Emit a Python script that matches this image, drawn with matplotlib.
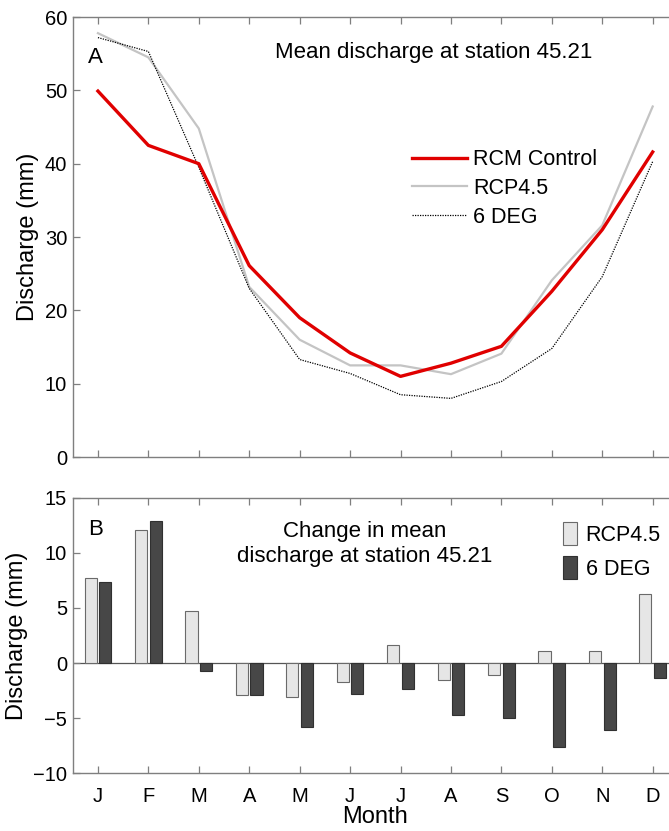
import numpy as np
import matplotlib.pyplot as plt

plt.rcParams['font.family'] = ['Liberation Sans', 'DejaVu Sans']

months = ['J', 'F', 'M', 'A', 'M', 'J', 'J', 'A', 'S', 'O', 'N', 'D']

# mean discharge (mm)
rcm_control = [49.9, 42.5, 40.0, 26.1, 19.0, 14.2, 11.0, 12.8, 15.1, 22.6, 31.0, 41.6]
rcp45 = [57.8, 54.5, 44.8, 23.2, 16.0, 12.5, 12.5, 11.3, 14.1, 24.1, 31.6, 47.8]
deg6 = [57.2, 55.3, 39.5, 23.0, 13.3, 11.4, 8.5, 8.0, 10.3, 14.8, 24.6, 40.3]

# change in mean discharge (mm)
chg_rcp45 = [7.74, 12.03, 4.75, -2.93, -3.05, -1.75, 1.66, -1.51, -1.12, 1.09, 1.09, 6.23]
chg_deg6 = [7.32, 12.88, -0.73, -2.87, -5.77, -2.78, -2.33, -4.75, -4.99, -7.62, -6.11, -1.33]

x = np.arange(1, 13)
spine_col = '#7f7f7f'

fig = plt.figure(figsize=(6.69, 8.31), dpi=100)
ax1 = fig.add_axes([0.1087, 0.450, 0.9046, 0.5295])
ax2 = fig.add_axes([0.1087, 0.0694, 0.9046, 0.3317])

# --- panel A
ax1.plot(x, rcm_control, color='#e00000', lw=2.4, label='RCM Control', zorder=3)
ax1.plot(x, rcp45, color='#c4c4c4', lw=1.6, label='RCP4.5', zorder=2)
ax1.plot(x, deg6, color='black', lw=0.9, ls=(0, (1, 1)), label='6 DEG', zorder=2)
ax1.set_xlim(0.5, 12.5)
ax1.set_ylim(0, 60)
ax1.set_yticks(np.arange(0, 61, 10))
ax1.set_xticks(x)
ax1.set_xticklabels([])
ax1.set_ylabel('Discharge (mm)', fontsize=17, labelpad=4)
ax1.text(0.025, 0.909, 'A', transform=ax1.transAxes, fontsize=16, va='center', ha='left')
ax1.text(0.597, 0.92, 'Mean discharge at station 45.21', transform=ax1.transAxes,
         fontsize=16, ha='center', va='center')
ax1.legend(frameon=False, loc='upper left', bbox_to_anchor=(0.56, 0.70), fontsize=15.5,
           handlelength=2.56, handletextpad=0.3, labelspacing=0.36, borderaxespad=0,
           borderpad=0)

# --- panel B
w = 0.24
ax2.bar(x - 0.145, chg_rcp45, width=w, color='#e6e6e6', edgecolor='#6a6a6a', lw=0.8,
        label='RCP4.5', zorder=2)
ax2.bar(x + 0.145, chg_deg6, width=w, color='#474747', edgecolor='#303030', lw=0.8,
        label='6 DEG', zorder=2)
ax2.axhline(0, color='#555555', lw=0.9, zorder=1)
ax2.set_xlim(0.5, 12.5)
ax2.set_ylim(-10, 15)
ax2.set_yticks(np.arange(-10, 16, 5))
ax2.set_xticks(x)
ax2.set_xticklabels(months)
ax2.set_ylabel('Discharge (mm)', fontsize=17, labelpad=4)
ax2.set_xlabel('Month', fontsize=17, labelpad=0)
ax2.text(0.025, 0.883, 'B', transform=ax2.transAxes, fontsize=16, va='center', ha='left')
ax2.text(0.483, 0.832, 'Change in mean\ndischarge at station 45.21', transform=ax2.transAxes,
         fontsize=16, ha='center', va='center', linespacing=1.25)
ax2.legend(frameon=False, loc='upper left', bbox_to_anchor=(0.81, 0.912), fontsize=15.5,
           handlelength=0.65, handleheight=1.25, handletextpad=0.4, labelspacing=0.5,
           borderaxespad=0, borderpad=0)

for ax in (ax1, ax2):
    for s in ax.spines.values():
        s.set_color(spine_col)
        s.set_linewidth(1.0)
    ax.tick_params(direction='in', top=True, right=True, length=5, width=0.9,
                   color=spine_col, labelsize=14.5, pad=4)
ax2.tick_params(axis='x', pad=10)

fig.savefig('out.png', dpi=100)
